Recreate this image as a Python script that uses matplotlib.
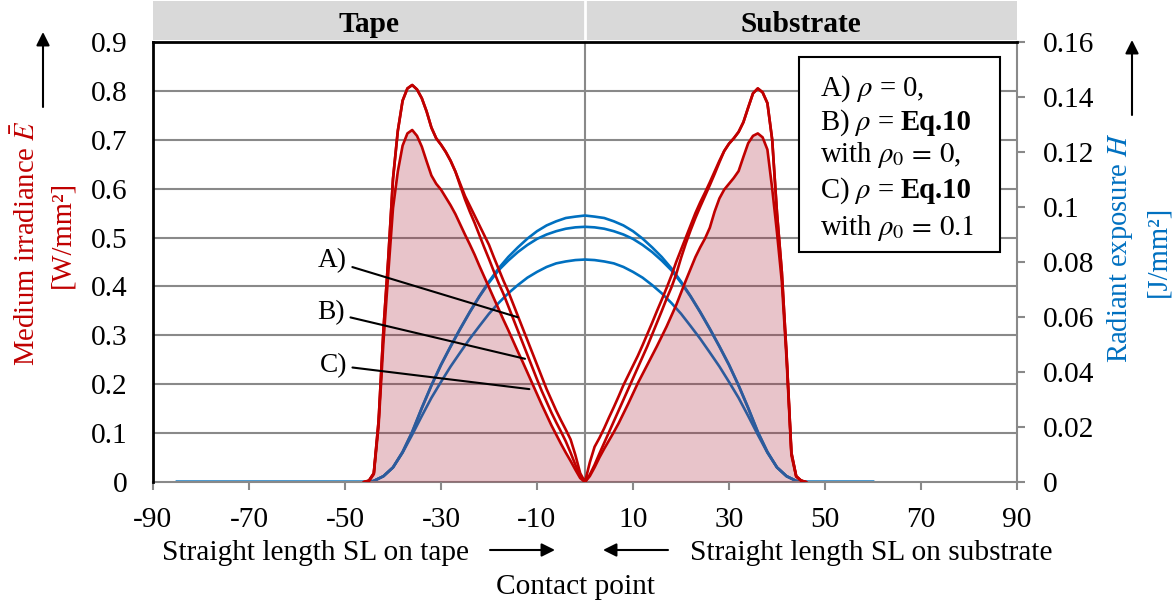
import matplotlib
matplotlib.use("Agg")
import matplotlib.pyplot as plt
from matplotlib.patches import Rectangle, FancyArrowPatch
from matplotlib.ticker import FixedLocator

plt.rcParams['font.family'] = ['Liberation Serif', 'DejaVu Serif']
plt.rcParams['mathtext.fontset'] = 'stix'
plt.rcParams['axes.unicode_minus'] = False

RED = '#c00000'
BLUE = '#0070c0'
GRID = '#898989'
FILL = '#aa253b'
FS = 21.2
W, H = 1176, 605

# straight length SL [mm], irradiance curves (left axis)
x_red = list(range(-46, 47))
irr_a = [0, 0.003, 0.018, 0.125, 0.31, 0.455, 0.62, 0.718, 0.78, 0.805,
         0.812, 0.803, 0.785, 0.758, 0.725, 0.703, 0.69, 0.675, 0.657, 0.635,
         0.61, 0.585, 0.565, 0.545, 0.525, 0.505, 0.485, 0.46, 0.436, 0.412,
         0.39, 0.365, 0.34, 0.315, 0.29, 0.265, 0.24, 0.215, 0.19, 0.168,
         0.146, 0.126, 0.107, 0.087, 0.055, 0.018, 0,
         0.04, 0.072, 0.09, 0.11, 0.132, 0.153, 0.175, 0.198, 0.218, 0.238,
         0.258, 0.28, 0.303, 0.326, 0.35, 0.373, 0.397, 0.422, 0.45, 0.475,
         0.5, 0.525, 0.55, 0.572, 0.592, 0.613, 0.635, 0.657, 0.677, 0.692,
         0.703, 0.716, 0.736, 0.766, 0.795, 0.805, 0.797, 0.775, 0.7, 0.55,
         0.43, 0.26, 0.06, 0.012, 0.003, 0]
irr_b = [0, 0.003, 0.018, 0.125, 0.31, 0.455, 0.62, 0.718, 0.78, 0.805,
         0.812, 0.803, 0.785, 0.758, 0.725, 0.703, 0.69, 0.675, 0.657, 0.635,
         0.606, 0.578, 0.553, 0.53, 0.505, 0.48, 0.456, 0.431, 0.407, 0.385,
         0.36, 0.335, 0.31, 0.285, 0.26, 0.235, 0.21, 0.186, 0.164, 0.142,
         0.122, 0.103, 0.083, 0.06, 0.035, 0.012, 0,
         0.015, 0.035, 0.058, 0.08, 0.102, 0.124, 0.146, 0.168, 0.19, 0.212,
         0.234, 0.256, 0.278, 0.302, 0.326, 0.35, 0.375, 0.398, 0.425, 0.458,
         0.488, 0.515, 0.54, 0.563, 0.585, 0.607, 0.63, 0.654, 0.677, 0.692,
         0.703, 0.716, 0.736, 0.766, 0.795, 0.805, 0.797, 0.775, 0.7, 0.55,
         0.43, 0.26, 0.06, 0.012, 0.003, 0]
irr_c = [0, 0.002, 0.016, 0.115, 0.285, 0.425, 0.56, 0.635, 0.688, 0.713,
         0.72, 0.708, 0.686, 0.656, 0.627, 0.61, 0.598, 0.582, 0.566, 0.548,
         0.527, 0.506, 0.486, 0.465, 0.442, 0.42, 0.398, 0.376, 0.354, 0.332,
         0.311, 0.289, 0.267, 0.246, 0.224, 0.202, 0.18, 0.158, 0.137, 0.116,
         0.097, 0.078, 0.06, 0.043, 0.025, 0.008, 0,
         0.012, 0.03, 0.05, 0.068, 0.085, 0.102, 0.12, 0.14, 0.16, 0.181,
         0.202, 0.221, 0.24, 0.259, 0.278, 0.298, 0.318, 0.34, 0.362, 0.387,
         0.412, 0.436, 0.46, 0.48, 0.498, 0.52, 0.553, 0.58, 0.598, 0.61,
         0.622, 0.636, 0.665, 0.693, 0.708, 0.713, 0.705, 0.68, 0.6, 0.51,
         0.41, 0.25, 0.055, 0.011, 0.003, 0]

# radiant exposure curves (right axis)
x_blue = [-85, -45, -44, -42, -40, -38, -36, -34, -32, -30, -28, -26, -24,
          -22, -20, -18, -16, -14, -12, -10, -8, -6, -4, -2, 0,
          2, 4, 6, 8, 10, 12, 14, 16, 18, 20, 22, 24, 26, 28, 30, 32, 34,
          36, 38, 40, 42, 44, 45, 60]
exp_top = [0, 0, 0.0004, 0.0021, 0.0053, 0.011, 0.0183, 0.027, 0.0352,
           0.0427, 0.0494, 0.0558, 0.0619, 0.0676, 0.0729, 0.0777, 0.0818,
           0.0853, 0.0885, 0.0912, 0.0933, 0.0948, 0.096, 0.0965, 0.0969,
           0.0965, 0.096, 0.0948, 0.0933, 0.0912, 0.0885, 0.0853, 0.0818,
           0.0777, 0.0729, 0.0676, 0.0619, 0.0558, 0.0494, 0.0427, 0.0352,
           0.027, 0.0183, 0.011, 0.0053, 0.0021, 0.0004, 0, 0]
exp_mid = [0, 0, 0.0004, 0.0021, 0.0053, 0.0108, 0.0181, 0.0268, 0.035,
           0.0425, 0.0492, 0.0556, 0.0617, 0.0674, 0.0725, 0.077, 0.0805,
           0.0836, 0.0862, 0.0884, 0.09, 0.0912, 0.0921, 0.0926, 0.0928,
           0.0926, 0.0921, 0.0912, 0.09, 0.0884, 0.0862, 0.0836, 0.0805,
           0.077, 0.0725, 0.0674, 0.0617, 0.0556, 0.0492, 0.0425, 0.035,
           0.0268, 0.0181, 0.0108, 0.0053, 0.0021, 0.0004, 0, 0]
exp_low = [0, 0, 0.0004, 0.0021, 0.0053, 0.0107, 0.0172, 0.024, 0.0306,
           0.0364, 0.042, 0.0471, 0.0521, 0.0567, 0.0612, 0.0651, 0.0686,
           0.0716, 0.0743, 0.0764, 0.0782, 0.0795, 0.0802, 0.0807, 0.0809,
           0.0807, 0.0802, 0.0795, 0.0782, 0.0764, 0.0743, 0.0716, 0.0686,
           0.0651, 0.0612, 0.0567, 0.0521, 0.0471, 0.042, 0.0364, 0.0306,
           0.024, 0.0172, 0.0107, 0.0053, 0.0021, 0.0004, 0, 0]

x_ticks = [-90, -70, -50, -30, -10, 10, 30, 50, 70, 90]
left_ticks = [0, 0.1, 0.2, 0.3, 0.4, 0.5, 0.6, 0.7, 0.8, 0.9]
left_labels = ['0', '0.1', '0.2', '0.3', '0.4', '0.5', '0.6', '0.7', '0.8', '0.9']
right_ticks = [0, 0.02, 0.04, 0.06, 0.08, 0.1, 0.12, 0.14, 0.16]
right_labels = ['0', '0.02', '0.04', '0.06', '0.08', '0.1', '0.12', '0.14', '0.16']
legend_lines = ['A) $\\rho$ = 0,',
                'B) $\\rho$ =',
                'with $\\rho_0\\,=\\,0$,',
                'C) $\\rho$ =',
                'with $\\rho_0\\,=\\,0.1$']
legend_bold = ['', 'Eq.10', '', 'Eq.10', '']


def px(x, y):
    return x / W, 1 - y / H


fig = plt.figure(figsize=(W / 100, H / 100), dpi=100)
ax = fig.add_axes([153 / W, 1 - 482 / H, 864 / W, 440 / H])
ax2 = ax.twinx()
ax.set_zorder(ax2.get_zorder() + 1)
ax.patch.set_visible(False)

# right axis: grid (at left-axis positions), centre line, blue curves
ax2.set_ylim(0, 0.16)
ax2.set_yticks(right_ticks)
ax2.set_yticklabels(right_labels)
ax2.yaxis.set_minor_locator(FixedLocator([t * 0.16 / 0.9 for t in left_ticks[1:]]))
ax2.grid(which='minor', axis='y', color=GRID, lw=1.5, zorder=0)
ax2.axvline(0, color=GRID, lw=1.5, zorder=1)
for ys in (exp_top, exp_mid, exp_low):
    ax2.plot(x_blue, ys, color=BLUE, lw=1.9, zorder=2, solid_joinstyle='round')

# left axis: filled curve C and red curves
ax.fill_between(x_red, irr_c, 0, color=FILL, alpha=0.27, lw=0, zorder=1)
for ys in (irr_a, irr_b, irr_c):
    ax.plot(x_red, ys, color=RED, lw=1.9, zorder=3, solid_joinstyle='round')

ax.set_xlim(-90, 90)
ax.set_ylim(0, 0.9)
ax.set_xticks(x_ticks)
ax.set_yticks(left_ticks)
ax.set_yticklabels(left_labels)

ax.tick_params(axis='y', length=0, pad=18.5, labelsize=FS)
ax.tick_params(axis='x', direction='out', length=6, width=1.5, color=GRID,
               pad=12, labelsize=FS)
ax2.tick_params(axis='y', which='major', direction='out', length=6, width=1.5,
                color=GRID, pad=12.5, labelsize=FS)
ax2.tick_params(axis='y', which='minor', length=0)

for s in ('right', 'bottom'):
    ax.spines[s].set_visible(False)
for s in ('left', 'top'):
    ax.spines[s].set_color('black')
    ax.spines[s].set_linewidth(2)
for s in ('left', 'top'):
    ax2.spines[s].set_visible(False)
for s in ('right', 'bottom'):
    ax2.spines[s].set_color(GRID)
    ax2.spines[s].set_linewidth(1.5)

# A) B) C) callouts
callouts = [('A)', (-14.0, 0.337), (-49.6, 0.452)),
            ('B)', (-12.5, 0.252), (-50.0, 0.346)),
            ('C)', (-11.6, 0.19), (-49.6, 0.239))]
for lab, tip, pos in callouts:
    ax.annotate(lab, xy=tip, xytext=pos, ha='right', va='center', fontsize=FS - 1.5,
                arrowprops=dict(arrowstyle='-', color='black', lw=1.5,
                                shrinkA=2, shrinkB=0), zorder=6)

# header strip
hx = fig.add_axes([153 / W, 1 - 40 / H, 864 / W, 39 / H])
hx.set_facecolor('#d9d9d9')
hx.set_xlim(-90, 90)
hx.set_ylim(0, 1)
hx.axvline(0, color='white', lw=2)
hx.set_xticks([])
hx.set_yticks([])
for s in hx.spines.values():
    s.set_visible(False)
hx.text(-45, 0.4, 'Tape', ha='center', va='center', fontsize=FS, fontweight='bold')
hx.text(45, 0.4, 'Substrate', ha='center', va='center', fontsize=FS, fontweight='bold')

# legend box
x0, y0 = px(799, 252)
fig.add_artist(Rectangle((x0, y0), 201 / W, 195 / H, transform=fig.transFigure,
                         facecolor='white', edgecolor='black', lw=1.5, zorder=5))
renderer = fig.canvas.get_renderer()
for txt, bold, yb in zip(legend_lines, legend_bold, [96, 130, 162, 198, 235]):
    t = fig.text(*px(820, yb), txt, ha='left', va='baseline', fontsize=FS - 0.5, zorder=6)
    if bold:
        x_end = t.get_window_extent(renderer).x1
        fig.text((x_end + 6) / W, 1 - yb / H, bold, ha='left', va='baseline',
                 fontsize=FS - 0.5, fontweight='bold', zorder=6)

# axis titles
fig.text(*px(27, 243), 'Medium irradiance $\\bar{E}$', rotation=90, color=RED,
         ha='center', va='center', fontsize=FS - 0.6)
fig.text(*px(62, 234), '[W/mm²]', rotation=90, color=RED,
         ha='center', va='center', fontsize=FS - 0.6)
fig.text(*px(1120, 248), 'Radiant exposure $H$', rotation=90, color=BLUE,
         ha='center', va='center', fontsize=FS - 0.6)
fig.text(*px(1158, 251), '[J/mm²]', rotation=90, color=BLUE,
         ha='center', va='center', fontsize=FS - 0.6)

fig.text(*px(316, 553), 'Straight length SL on tape', ha='center', va='center', fontsize=FS)
fig.text(*px(871, 553), 'Straight length SL on substrate', ha='center', va='center', fontsize=FS)
fig.text(*px(576, 587), 'Contact point', ha='center', va='center', fontsize=FS)

for a, b in [((43, 107), (43, 32)), ((1132, 115), (1132, 40)),
             ((490, 550), (555, 550)), ((668, 550), (603, 550))]:
    fig.add_artist(FancyArrowPatch(px(*a), px(*b), transform=fig.transFigure,
                                   arrowstyle='-|>', mutation_scale=20, lw=1.5,
                                   color='black', shrinkA=0, shrinkB=0))

fig.savefig('out.png', dpi=100)
